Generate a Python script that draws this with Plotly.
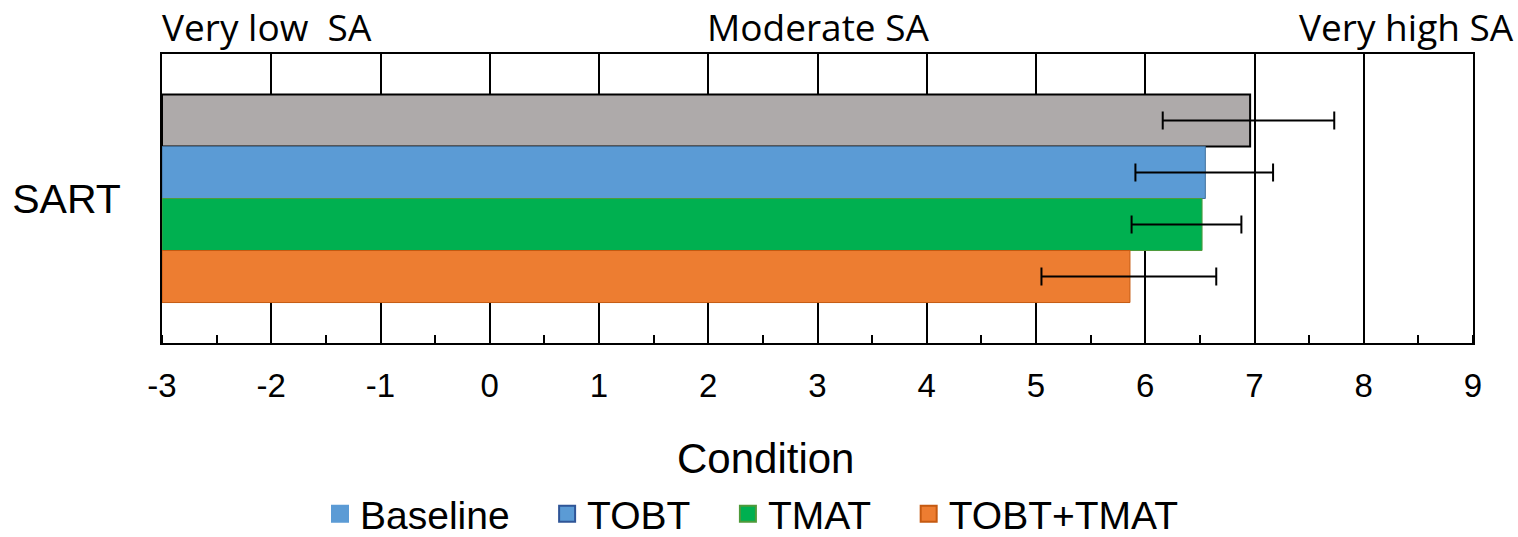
import plotly.graph_objects as go

# ---- data ----
category = ["SART"]
conditions = ["Baseline", "TOBT", "TMAT", "TOBT+TMAT"]
means = [6.96, 6.55, 6.52, 5.86]
err_plus = [0.77, 0.62, 0.36, 0.79]
err_minus = [0.80, 0.64, 0.645, 0.81]
x_ticks = [-3, -2, -1, 0, 1, 2, 3, 4, 5, 6, 7, 8, 9]
top_labels = ["Very low\u00a0 SA", "Moderate SA", "Very high SA"]

# ---- styles ----
bar_fill = ["#AEAAAA", "#5B9BD5", "#00B050", "#ED7D31"]
bar_line = ["#000000", "#41719C", "#4E9A3A", "#C55A11"]
bar_line_w = [2, 1, 1, 1]
legend_fill = ["#5B9BD5", "#5B9BD5", "#00B050", "#ED7D31"]
legend_line = ["#5B9BD5", "#2F5597", "#4E9A3A", "#C55A11"]

axis_min = x_ticks[0]
axis_max = x_ticks[-1]

fig = go.Figure()
for i, name in enumerate(conditions):
    fig.add_trace(go.Bar(
        y=category, x=[means[i] - axis_min], base=axis_min,
        orientation="h", name=name, showlegend=False,
        marker=dict(color=bar_fill[i], line=dict(color=bar_line[i], width=bar_line_w[i])),
        error_x=dict(type="data", symmetric=False, array=[err_plus[i]],
                     arrayminus=[err_minus[i]], color="black", thickness=2, width=9),
    ))

for i, name in enumerate(conditions):
    fig.add_trace(go.Scatter(
        x=[None], y=[None], mode="markers", name=name + "\u00a0\u00a0\u00a0",
        marker=dict(symbol="square", size=16, color=legend_fill[i],
                    line=dict(color=legend_line[i], width=2)),
    ))

W, H = 1518, 537
plot_l, plot_r, plot_t, plot_b = 162, 1473, 54, 343
pw = plot_r - plot_l
ph = plot_b - plot_t


def px_x(ref_x):
    return (ref_x - plot_l) / pw


def px_y(ref_y):
    return (plot_b - ref_y) / ph


fig.update_layout(
    width=W, height=H,
    margin=dict(l=plot_l, r=W - plot_r, t=plot_t, b=H - plot_b, autoexpand=False),
    paper_bgcolor="white", plot_bgcolor="white",
    barmode="group", bargap=0.28, bargroupgap=0,
    font=dict(family="Liberation Sans, Arial, sans-serif", color="black"),
    showlegend=True,
    legend=dict(orientation="h", xref="paper", x=px_x(768), xanchor="center",
                y=px_y(482), yanchor="top",
                font=dict(size=39, family="Liberation Sans, Arial, sans-serif"),
                bgcolor="rgba(0,0,0,0)"),
    xaxis=dict(range=[axis_min, axis_max], tickvals=x_ticks, ticktext=[str(t) for t in x_ticks],
               showgrid=True, gridcolor="black", gridwidth=2, zeroline=False,
               showline=True, linecolor="black", linewidth=2, mirror=True,
               ticks="", tickfont=dict(size=33), ticklabelstandoff=12,
               minor=dict(ticks="inside", ticklen=8, tickwidth=2, tickcolor="black",
                          dtick=0.5, tick0=axis_min, showgrid=False)),
    yaxis=dict(autorange="reversed", showgrid=False, zeroline=False,
               showline=True, linecolor="black", linewidth=2, mirror=True,
               ticks="", tickfont=dict(size=41), ticklabelstandoff=31),
)

top_font = dict(family="Open Sans, sans-serif", size=37, color="black")
top_y = px_y(27)
fig.add_annotation(x=axis_min, xref="x", y=top_y, yref="paper",
                   text=top_labels[0], showarrow=False, xanchor="left", yanchor="middle",
                   font=top_font, xshift=-2)
fig.add_annotation(x=3.0, xref="x", y=top_y, yref="paper",
                   text=top_labels[1], showarrow=False, xanchor="center", yanchor="middle",
                   font=top_font)
fig.add_annotation(x=px_x(1516), xref="paper", y=top_y, yref="paper",
                   text=top_labels[2], showarrow=False, xanchor="right", yanchor="middle",
                   font=top_font)
fig.add_annotation(x=px_x(765.5), xref="paper", y=px_y(458), yref="paper",
                   text="Condition", showarrow=False, xanchor="center", yanchor="middle",
                   font=dict(size=42, family="Liberation Sans, Arial, sans-serif"))

fig.write_html(
    "out.html",
    config={"displayModeBar": False},
    post_script="document.body.style.margin='0';document.body.style.overflow='hidden';",
)
